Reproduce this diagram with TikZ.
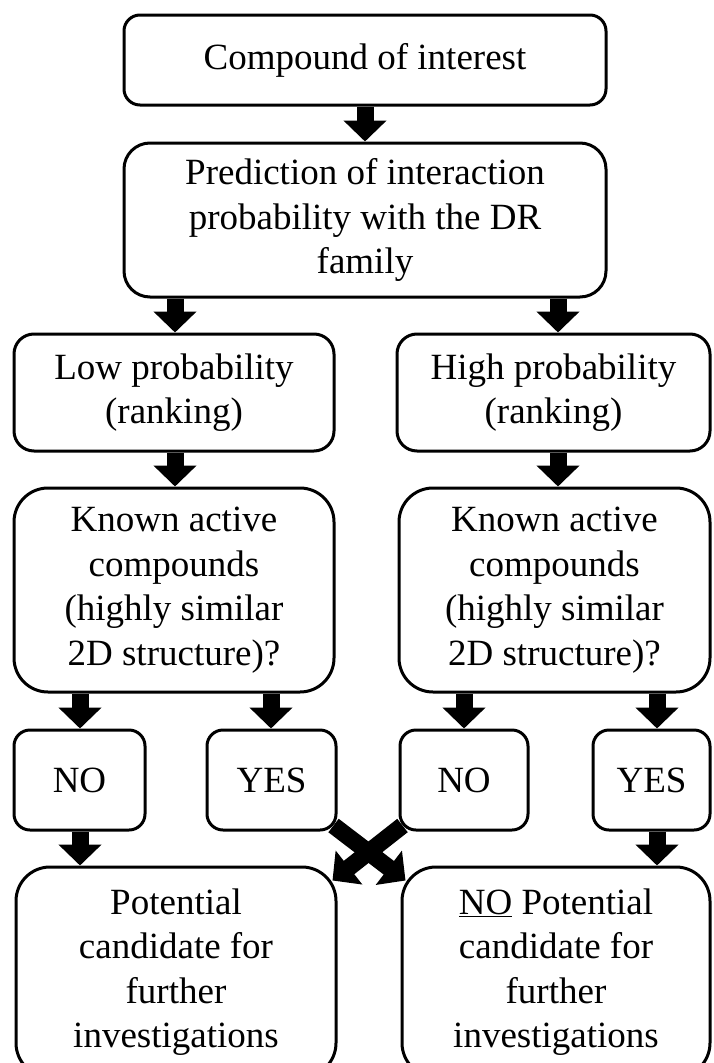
\documentclass[tikz,border=0pt]{standalone}
\usepackage{fontspec}
\setmainfont{Liberation Serif}
\usetikzlibrary{arrows.meta,calc}
\begin{document}
\begin{tikzpicture}[x=1pt,y=-1pt,
  box/.style={draw,line width=3pt,fill=white,align=center,inner sep=0pt,
    font=\fontsize{37}{44.5}\selectfont},
  flow/.style={line width=17pt,-{Triangle[width=42pt,length=21pt]}},
]
\useasboundingbox (0,0) rectangle (713,1063);
\clip (0,0) rectangle (713,1063);
\fill[white] (0,0) rectangle (713,1063);
% columns for arrows
\coordinate (xl) at (175,0);
\coordinate (xr) at (558,0);
\coordinate (xa) at (80,0);
\coordinate (xb) at (271,0);
\coordinate (xc) at (464,0);
\coordinate (xd) at (657,0);
% boxes
\node[box,rounded corners=16pt,minimum width=482pt,minimum height=90pt] (b1) at (365,60) {Compound of interest};
\node[box,rounded corners=26pt,minimum width=482pt,minimum height=154pt] (b2) at (365,220) {Prediction of interaction\\probability with the DR\\family};
\node[box,rounded corners=20pt,minimum width=320pt,minimum height=117pt] (b3) at (174,392.5) {Low probability\\(ranking)};
\node[box,rounded corners=20pt,minimum width=313pt,minimum height=117pt] (b4) at (553.5,392.5) {High probability\\(ranking)};
\node[box,rounded corners=34pt,minimum width=320pt,minimum height=204pt] (b5) at (174,590) {Known active\\compounds\\(highly similar\\2D structure)?};
\node[box,rounded corners=34pt,minimum width=311pt,minimum height=204pt] (b6) at (554.5,590) {Known active\\compounds\\(highly similar\\2D structure)?};
\node[box,rounded corners=16pt,minimum width=131pt,minimum height=100pt] (n1) at (79.5,780) {NO};
\node[box,rounded corners=16pt,minimum width=129pt,minimum height=100pt] (y1) at (271.5,780) {YES};
\node[box,rounded corners=16pt,minimum width=128pt,minimum height=100pt] (n2) at (464,780) {NO};
\node[box,rounded corners=16pt,minimum width=117pt,minimum height=100pt] (y2) at (651.5,780) {YES};
\node[box,rounded corners=34pt,minimum width=320pt,minimum height=210pt] (b7) at (176,972) {Potential\\candidate for\\further\\investigations};
\node[box,rounded corners=34pt,minimum width=308pt,minimum height=210pt] (b8) at (556,972) {\underline{NO} Potential\\candidate for\\further\\investigations};
% arrows
\draw[flow] (b1.south) -- (b2.north);
\draw[flow] (b2.south -| xl) -- (b3.north -| xl);
\draw[flow] (b2.south -| xr) -- (b4.north -| xr);
\draw[flow] (b3.south -| xl) -- (b5.north -| xl);
\draw[flow] (b4.south -| xr) -- (b6.north -| xr);
\draw[flow] (b5.south -| xa) -- (n1.north -| xa);
\draw[flow] (b5.south -| xb) -- (y1.north -| xb);
\draw[flow] (b6.south -| xc) -- (n2.north -| xc);
\draw[flow] (b6.south -| xd) -- (y2.north -| xd);
\draw[flow] (n1.south -| xa) -- (b7.north -| xa);
\draw[flow] (y2.south -| xd) -- (b8.north -| xd);
\draw[flow] ($(y1.south east)+(-4,-6)$) -- ($(b8.north west)+(5,15)$);
\draw[flow] ($(n2.south west)+(4,-6)$) -- ($(b7.north east)+(-5,15)$);
\end{tikzpicture}
\end{document}
